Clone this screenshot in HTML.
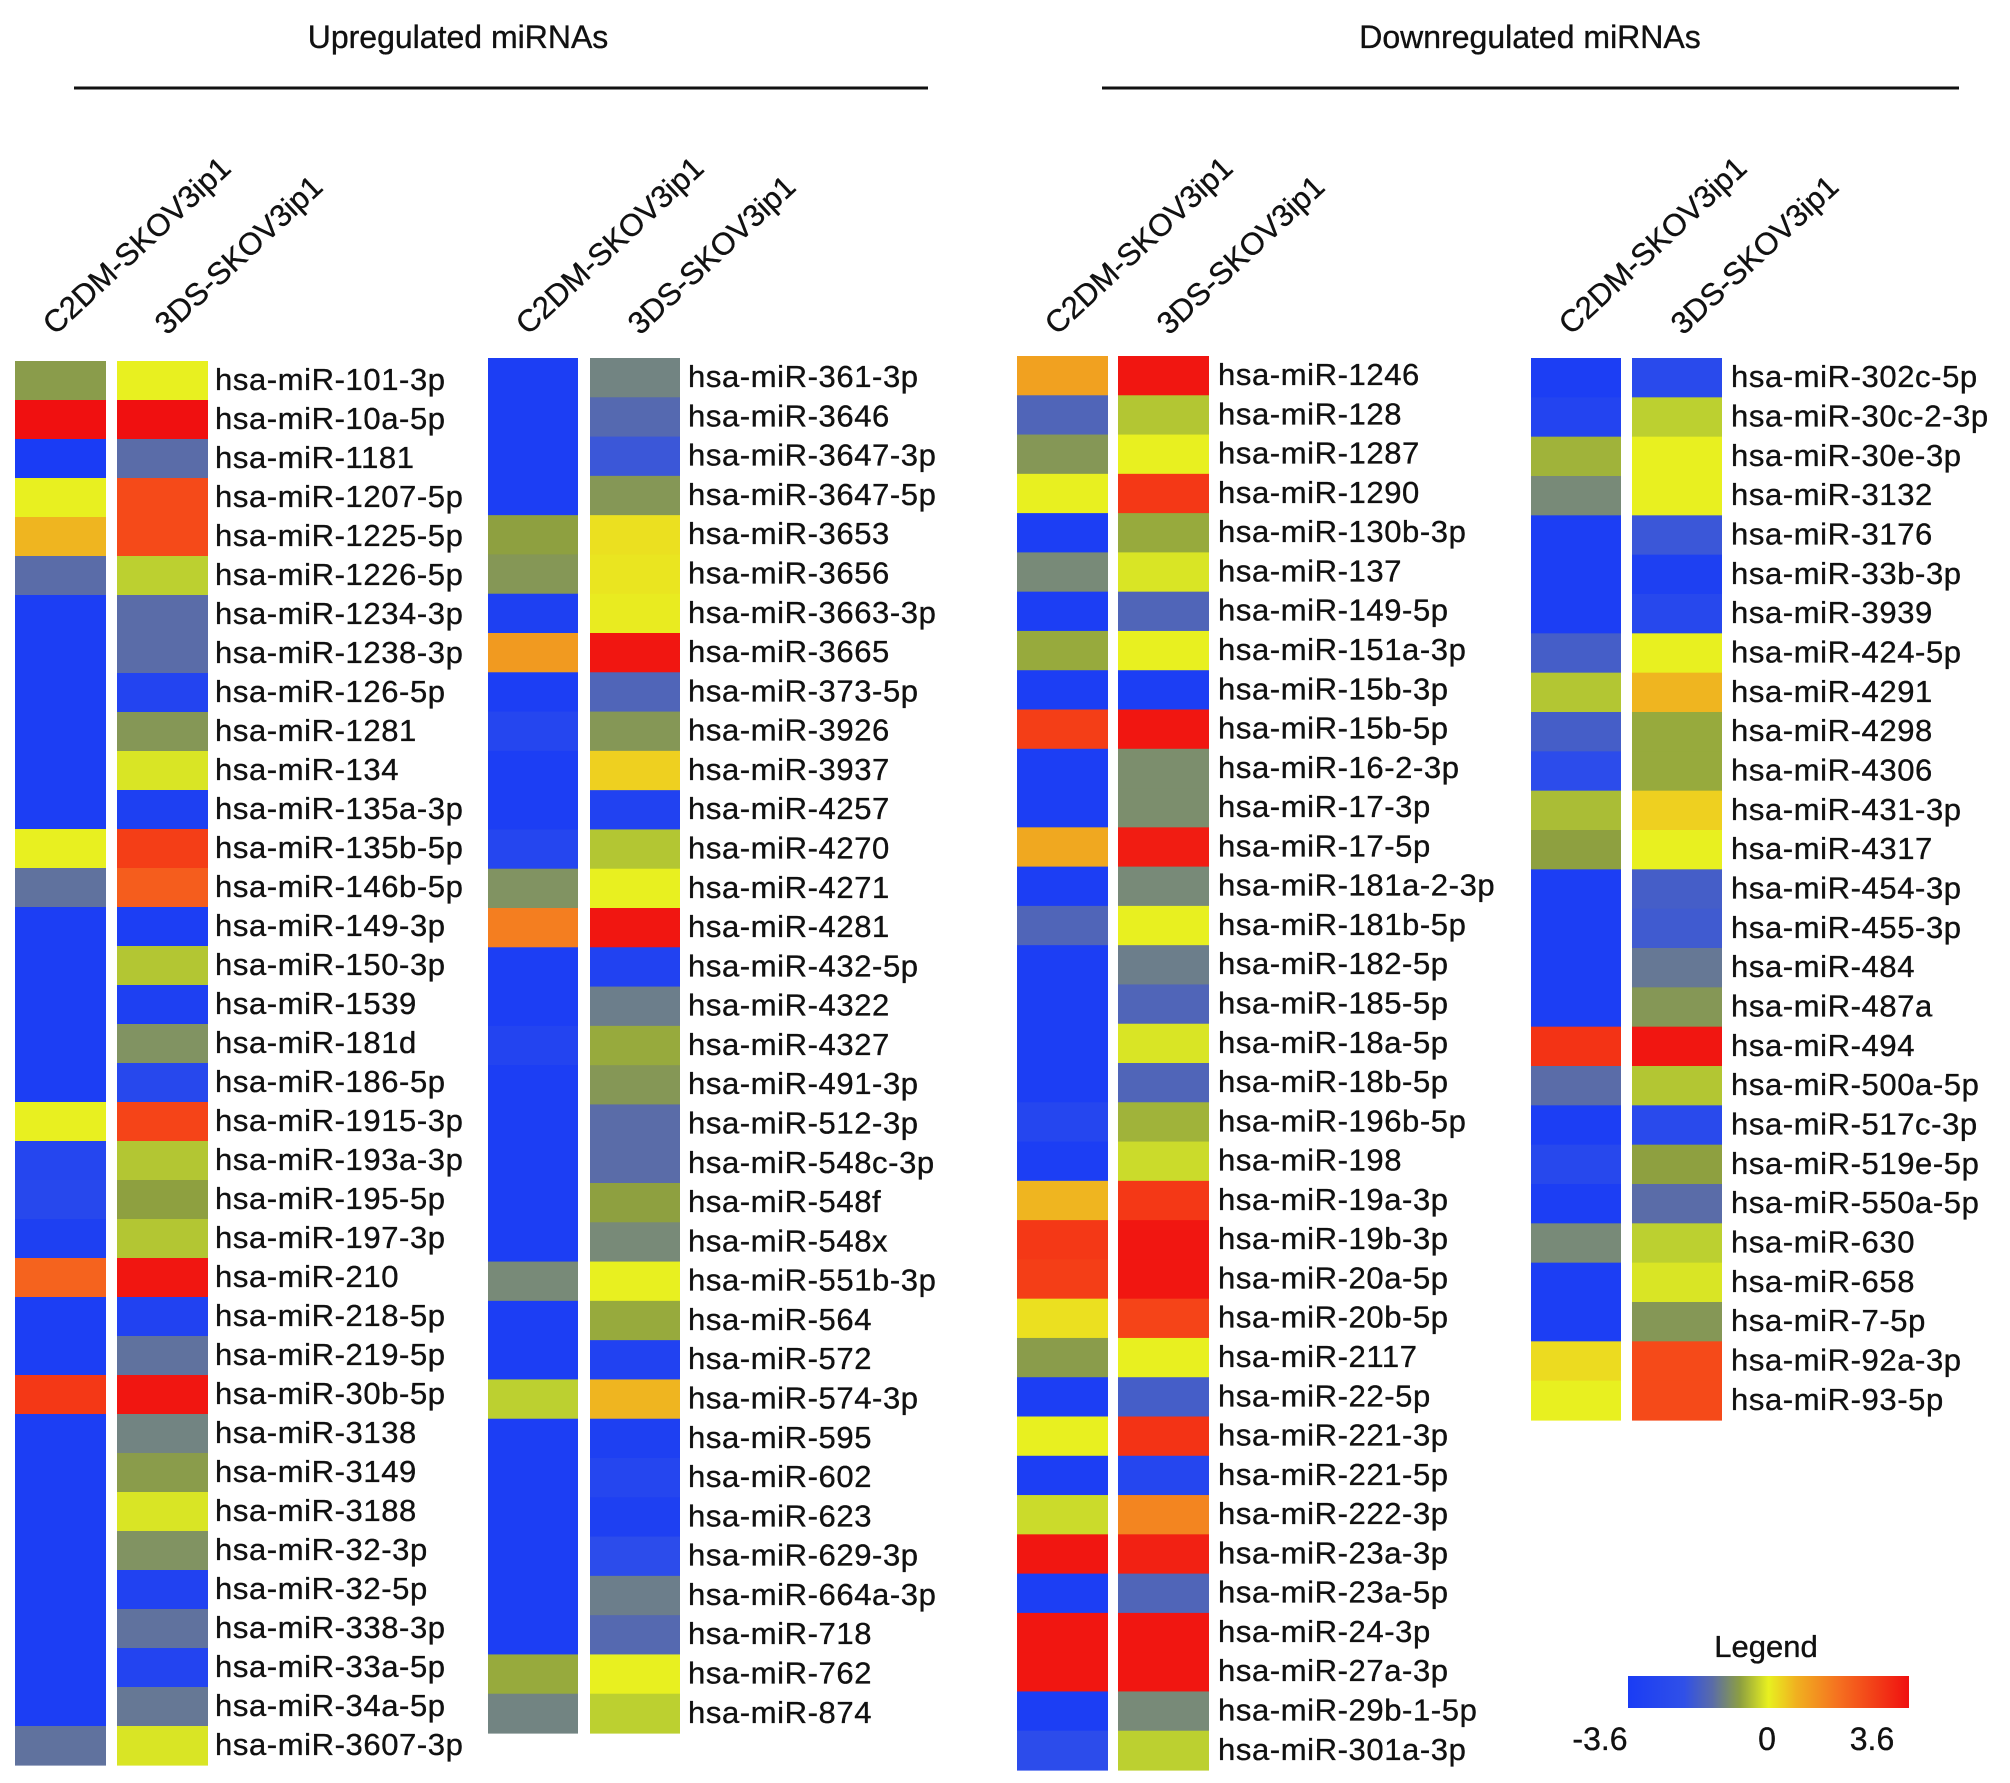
<!DOCTYPE html>
<html><head><meta charset="utf-8"><style>
html,body{margin:0;padding:0;background:#fff}
svg{display:block}
text{font-family:"Liberation Sans",Arial,sans-serif;fill:#111;stroke:#111;stroke-width:0.35}
</style></head><body>
<svg id="chart" width="2010" height="1783" viewBox="0 0 2010 1783" xmlns="http://www.w3.org/2000/svg">
<text x="458" y="48" font-size="32" text-anchor="middle">Upregulated miRNAs</text>
<line x1="74" y1="88" x2="928" y2="88" stroke="#111" stroke-width="3"/>
<text x="1530" y="48" font-size="32" text-anchor="middle">Downregulated miRNAs</text>
<line x1="1102" y1="88" x2="1959" y2="88" stroke="#111" stroke-width="3"/>
<g id="panels"></g>
<g>
<defs><linearGradient id="lg" x1="0" x2="1" y1="0" y2="0">
<stop offset="0" stop-color="#1a3cf5"/><stop offset="0.2" stop-color="#3050e8"/><stop offset="0.3" stop-color="#5a6ca8"/><stop offset="0.4" stop-color="#8ea040"/><stop offset="0.5" stop-color="#e8f020"/><stop offset="0.6" stop-color="#f0b020"/><stop offset="0.75" stop-color="#f57020"/><stop offset="1" stop-color="#f01010"/></linearGradient></defs>
<text x="1766" y="1657" font-size="31" text-anchor="middle">Legend</text>
<rect x="1628" y="1676" width="281" height="32" fill="url(#lg)"/>
<text x="1600" y="1750" font-size="32" text-anchor="middle">-3.6</text>
<text x="1767" y="1750" font-size="32" text-anchor="middle">0</text>
<text x="1872" y="1750" font-size="32" text-anchor="middle">3.6</text>
</g>
</svg>
<script>
const colLabels=["C2DM-SKOV3ip1","3DS-SKOV3ip1"];
const namesA=["101-3p","10a-5p","1181","1207-5p","1225-5p","1226-5p","1234-3p","1238-3p","126-5p","1281","134","135a-3p","135b-5p","146b-5p","149-3p","150-3p","1539","181d","186-5p","1915-3p","193a-3p","195-5p","197-3p","210","218-5p","219-5p","30b-5p","3138","3149","3188","32-3p","32-5p","338-3p","33a-5p","34a-5p","3607-3p"];
const c2dmA=[-0.9,3.6,-3.6,0,1.0,-1.8,-3.5,-3.5,-3.5,-3.5,-3.5,-3.5,0,-1.7,-3.5,-3.5,-3.5,-3.5,-3.5,0,-3.1,-3.0,-3.4,2.2,-3.5,-3.5,2.9,-3.5,-3.5,-3.5,-3.5,-3.5,-3.5,-3.5,-3.5,-1.7];
const sdsA=[0,3.6,-1.8,2.6,2.6,-0.3,-1.8,-1.8,-3.2,-1.0,-0.1,-3.4,2.8,2.3,-3.5,-0.4,-3.4,-1.1,-3.0,2.7,-0.4,-0.8,-0.4,3.5,-3.3,-1.7,3.5,-1.4,-0.9,-0.1,-1.1,-3.3,-1.7,-3.2,-1.6,-0.1];
const namesB=["361-3p","3646","3647-3p","3647-5p","3653","3656","3663-3p","3665","373-5p","3926","3937","4257","4270","4271","4281","432-5p","4322","4327","491-3p","512-3p","548c-3p","548f","548x","551b-3p","564","572","574-3p","595","602","623","629-3p","664a-3p","718","762","874"];
const c2dmB=[-3.5,-3.5,-3.5,-3.5,-0.8,-1.0,-3.4,1.4,-3.5,-3.1,-3.5,-3.5,-3.1,-1.1,1.8,-3.5,-3.5,-3.2,-3.5,-3.5,-3.5,-3.5,-3.5,-1.3,-3.5,-3.5,-0.3,-3.5,-3.5,-3.5,-3.5,-3.5,-3.5,-0.7,-1.4];
const sdsB=[-1.4,-1.9,-2.4,-1.0,0.3,0.2,0.1,3.5,-2.0,-1.0,0.6,-3.3,-0.4,0,3.5,-3.3,-1.5,-0.7,-1.0,-1.8,-1.8,-0.8,-1.3,0,-0.7,-3.3,1.0,-3.4,-3.1,-3.4,-2.8,-1.5,-1.9,0,-0.3];
const namesC=["1246","128","1287","1290","130b-3p","137","149-5p","151a-3p","15b-3p","15b-5p","16-2-3p","17-3p","17-5p","181a-2-3p","181b-5p","182-5p","185-5p","18a-5p","18b-5p","196b-5p","198","19a-3p","19b-3p","20a-5p","20b-5p","2117","22-5p","221-3p","221-5p","222-3p","23a-3p","23a-5p","24-3p","27a-3p","29b-1-5p","301a-3p"];
const c2dmC=[1.3,-2.0,-1.0,0,-3.5,-1.3,-3.5,-0.7,-3.5,2.8,-3.5,-3.5,1.2,-3.5,-2.0,-3.5,-3.5,-3.5,-3.5,-3.1,-3.5,1.0,2.9,2.8,0.3,-0.9,-3.5,0,-3.5,-0.2,3.5,-3.5,3.5,3.5,-3.5,-2.8];
const sdsC=[3.5,-0.4,0,2.9,-0.7,-0.1,-2.0,0,-3.5,3.5,-1.2,-1.2,3.4,-1.3,0,-1.5,-2.0,-0.1,-2.0,-0.6,-0.2,2.9,3.5,3.5,2.7,0,-2.2,3.0,-3.1,1.7,3.3,-2.0,3.5,3.5,-1.3,-0.3];
const namesD=["302c-5p","30c-2-3p","30e-3p","3132","3176","33b-3p","3939","424-5p","4291","4298","4306","431-3p","4317","454-3p","455-3p","484","487a","494","500a-5p","517c-3p","519e-5p","550a-5p","630","658","7-5p","92a-3p","93-5p"];
const c2dmD=[-3.5,-3.2,-0.6,-1.3,-3.5,-3.5,-3.5,-2.2,-0.4,-2.2,-2.8,-0.5,-0.8,-3.5,-3.5,-3.5,-3.5,3.0,-1.8,-3.5,-3.0,-3.5,-1.3,-3.5,-3.5,0.4,0];
const sdsD=[-2.9,-0.3,0,0,-2.4,-3.4,-3.0,0,1.0,-0.7,-0.7,0.6,0,-2.2,-2.3,-1.6,-1.0,3.5,-0.4,-2.9,-0.8,-1.8,-0.3,-0.1,-1.0,2.6,2.6];

const stops=[[-3.6,[26,60,245]],[-2.6,[48,80,232]],[-1.8,[90,108,168]],[-1.3,[120,138,120]],[-0.8,[142,160,64]],[-0.3,[188,208,48]],[0,[232,240,32]],[0.6,[238,208,32]],[1.2,[240,168,32]],[2.0,[245,112,32]],[2.7,[245,68,24]],[3.6,[240,16,16]]];
function color(v){
  v=Math.max(-3.6,Math.min(3.6,v));
  for(let i=1;i<stops.length;i++){
    if(v<=stops[i][0]){const a=stops[i-1],b=stops[i];const t=(v-a[0])/(b[0]-a[0]);
      const c=a[1].map((x,k)=>Math.round(x+(b[1][k]-x)*t));return `rgb(${c[0]},${c[1]},${c[2]})`;}
  }
  return "rgb(240,16,16)";
}
const NS="http://www.w3.org/2000/svg";
const panels=[
 {id:"a",x1:15,x2:117,w:91,lx:215,top:361,bottom:1765,names:namesA,v1:c2dmA,v2:sdsA},
 {id:"b",x1:488,x2:590,w:90,lx:688,top:358,bottom:1733,names:namesB,v1:c2dmB,v2:sdsB},
 {id:"c",x1:1017,x2:1118,w:91,lx:1218,top:356,bottom:1770,names:namesC,v1:c2dmC,v2:sdsC},
 {id:"d",x1:1531,x2:1632,w:90,lx:1731,top:358,bottom:1420,names:namesD,v1:c2dmD,v2:sdsD}
];
const root=document.getElementById("panels");
panels.forEach(p=>{
  const g=document.createElementNS(NS,"g");
  
  
  root.appendChild(g);
  const n=p.names.length, rh=(p.bottom-p.top)/n;
  const hx=[p.x1+40,p.x1+152];
  colLabels.forEach((lab,k)=>{
    const t=document.createElementNS(NS,"text");
    t.setAttribute("x",hx[k]);t.setAttribute("y",336);t.setAttribute("font-size","31");
    t.setAttribute("transform",`rotate(-43 ${hx[k]} 336)`);
    t.textContent=lab;
    
    
    g.appendChild(t);
  });
  p.names.forEach((nm,i)=>{
    const y=p.top+i*rh;
    [[p.x1,p.v1[i]],[p.x2,p.v2[i]]].forEach(([x,v])=>{
      const r=document.createElementNS(NS,"rect");
      r.setAttribute("x",x);r.setAttribute("y",y);r.setAttribute("width",p.w);r.setAttribute("height",rh+0.6);
      r.setAttribute("fill",color(v));
      
      
      g.appendChild(r);
    });
    const t=document.createElementNS(NS,"text");
    t.setAttribute("x",p.lx);t.setAttribute("y",y+rh*0.74);t.setAttribute("font-size","31");
    t.setAttribute("letter-spacing","0.6");
    t.textContent="hsa-miR-"+nm;
    
    
    g.appendChild(t);
  });
});
</script>
</body></html>
